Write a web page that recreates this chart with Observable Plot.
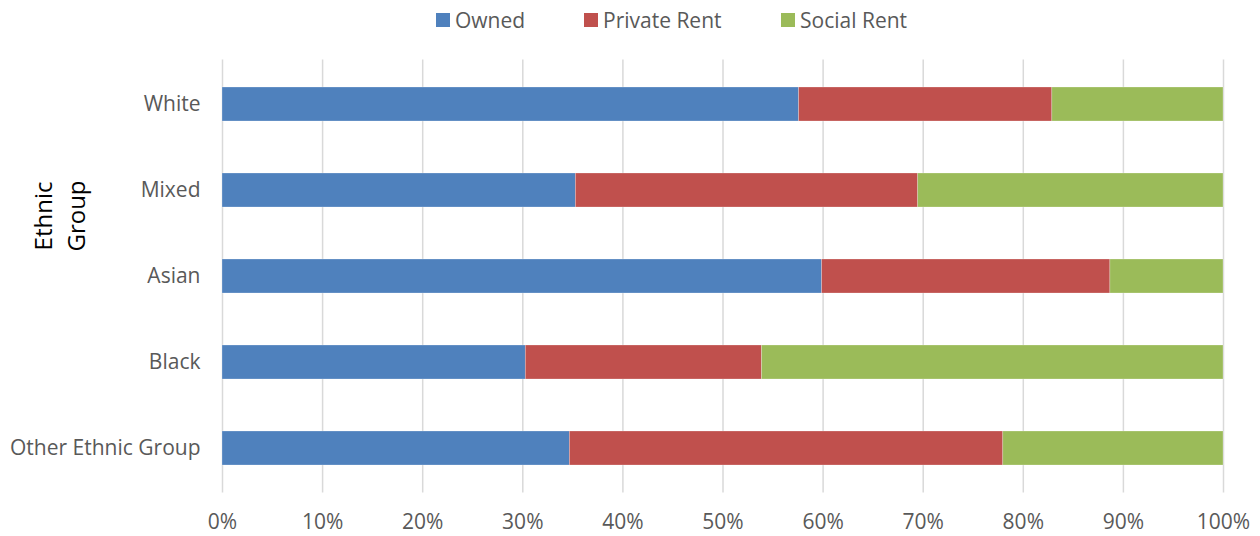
<!DOCTYPE html>
<html>
<head>
<meta charset="utf-8">
<script src="https://cdn.jsdelivr.net/npm/d3@7"></script>
<script src="https://cdn.jsdelivr.net/npm/@observablehq/plot@0.6"></script>
<style>
  html, body { margin: 0; padding: 0; background: #fff; }
  body { width: 1260px; height: 536px; overflow: hidden; font-family: "Open Sans", sans-serif; }
  #legend { height: 40px; position: relative; }
  .item { position: absolute; top: 0; height: 40px; display: flex; align-items: center; color: #595959; font-size: 21px; }
  .sw { width: 14px; height: 14px; margin-right: 5px; }
  #chart { position: relative; }
</style>
</head>
<body>
<div id="legend"></div>
<div id="chart"></div>
<script>
const groups = ["White", "Mixed", "Asian", "Black", "Other Ethnic Group"];
const tenures = ["Owned", "Private Rent", "Social Rent"];
const owned = [57.6, 35.3, 59.9, 30.3, 34.7];
const privateRent = [25.3, 34.2, 28.8, 23.6, 43.3];
const socialRent = [17.1, 30.5, 11.3, 46.1, 22.0];
const colors = ["#4f81bd", "#c0504d", "#9bbb59"];
const xTicks = [0, 10, 20, 30, 40, 50, 60, 70, 80, 90, 100];

const series = [owned, privateRent, socialRent];
const data = [];
groups.forEach((g, i) => {
  tenures.forEach((t, j) => data.push({group: g, tenure: t, value: series[j][i]}));
});

const legendLefts = [436, 584, 781];
const legend = document.getElementById("legend");
tenures.forEach((t, j) => {
  const it = document.createElement("div");
  it.className = "item";
  it.style.left = legendLefts[j] + "px";
  it.innerHTML = `<div class="sw" style="background:${colors[j]}"></div><span>${t}</span>`;
  legend.appendChild(it);
});

const fontFamily = "'Open Sans', sans-serif";
const chart = Plot.plot({
  width: 1260,
  height: 496,
  marginTop: 19.5,
  marginBottom: 43.5,
  marginLeft: 222,
  marginRight: 37,
  style: {fontFamily, fontSize: "21px", color: "#595959", background: "#fff"},
  x: {domain: [0, 100], ticks: xTicks, tickFormat: d => d + "%", tickSize: 0, tickPadding: 21, label: null},
  y: {domain: groups, paddingInner: 0.6, paddingOuter: 0.3, tickSize: 0, tickPadding: 22, label: null},
  color: {domain: tenures, range: colors},
  marks: [
    Plot.ruleX(xTicks, {stroke: "#d9d9d9", strokeWidth: 1.5}),
    Plot.barX(data, {x: "value", y: "group", fill: "tenure", stroke: "#ffffff", strokeOpacity: 0.35, strokeWidth: 0.7})
  ]
});
document.getElementById("chart").appendChild(chart);

const svg = d3.select(chart);
const lbl = svg.append("text")
  .attr("transform", "translate(0,176) rotate(-90)")
  .attr("text-anchor", "middle")
  .attr("fill", "#000")
  .style("font-family", fontFamily)
  .style("font-size", "24px");
lbl.append("tspan").attr("x", 0).attr("y", 52).text("Ethnic");
lbl.append("tspan").attr("x", 0).attr("y", 85).text("Group");
</script>
</body>
</html>
